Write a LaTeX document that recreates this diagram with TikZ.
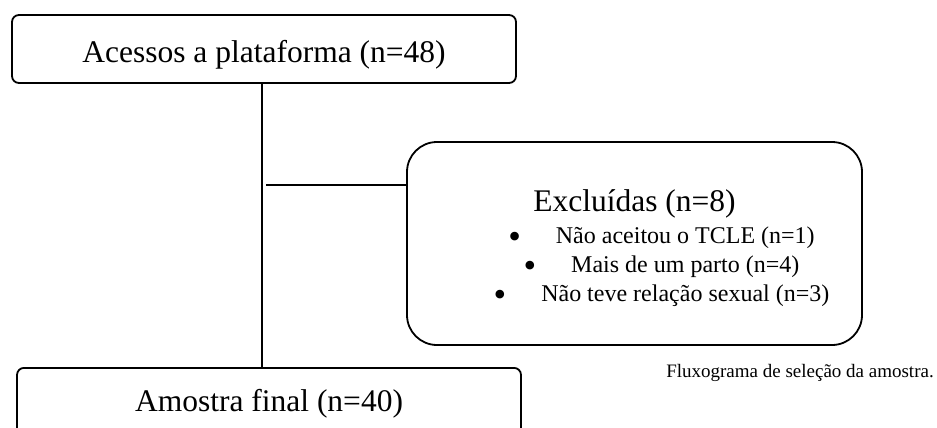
\documentclass[tikz,border=0pt]{standalone}
\usepackage{fontspec}
\setmainfont{Liberation Serif}
\definecolor{color_flow_line}{HTML}{000000}
\definecolor{color_flow_text}{HTML}{000000}
\def\flowlinewidth{1.6pt}
\def\flowboxlinewidth{1.8pt}
\def\flowbigfont{\fontsize{31.5}{36}\selectfont}
\def\flowitemfont{\fontsize{24}{29}\selectfont}
\def\flowcaptionfont{\fontsize{19}{23}\selectfont}
\def\flowbullet{\raisebox{-4.5pt}{\fontsize{36}{0}\selectfont\textbullet}}
\def\flowitem#1{\hspace*{54pt}\flowbullet\hspace{35pt}#1}
\tikzset{
    flowbox/.style={draw=color_flow_line, line width=\flowboxlinewidth, rounded corners=7pt,
        minimum width=504pt, inner ysep=0pt, text height=28pt, text depth=0pt,
        text=color_flow_text, font=\flowbigfont},
    flowline/.style={color_flow_line, line width=\flowlinewidth}
}

\begin{document}
\begin{tikzpicture}[x=1pt,y=-1pt]
        \useasboundingbox (0,0) rectangle (937,428);
        \clip (0,0) rectangle (937,428);
            % boxes
            \node[flowbox, minimum height=68pt] (acessos) at (264,49) {Acessos a plataforma (n=48)};
            \node[flowbox, anchor=north, inner ysep=16pt, text depth=20pt] (final) at (269,367) {Amostra final (n=40)};
            \node[flowbox, rounded corners=30pt, minimum width=455pt, minimum height=203pt,
                text height=, text depth=, align=center, font=\flowitemfont] (excluidas) at (634.5,243.5)
                {{\flowbigfont\rule{0pt}{32pt}Exclu\'idas (n=8)}\\[3pt]
                 \flowitem{Não aceitou o TCLE (n=1)}\\
                 \flowitem{Mais de um parto (n=4)}\\
                 \flowitem{Não teve relação sexual (n=3)}};
            % connectors
            \coordinate (branch) at (262,185);
            \draw[flowline] (acessos.south -| branch) -- (branch |- final.north);
            \draw[flowline] ([xshift=4pt]branch) -- (branch -| excluidas.west);
            % caption
            \node[text=color_flow_text, font=\flowcaptionfont] (legenda) at (800,373) {Fluxograma de seleção da amostra.};
    \end{tikzpicture}
\end{document}
